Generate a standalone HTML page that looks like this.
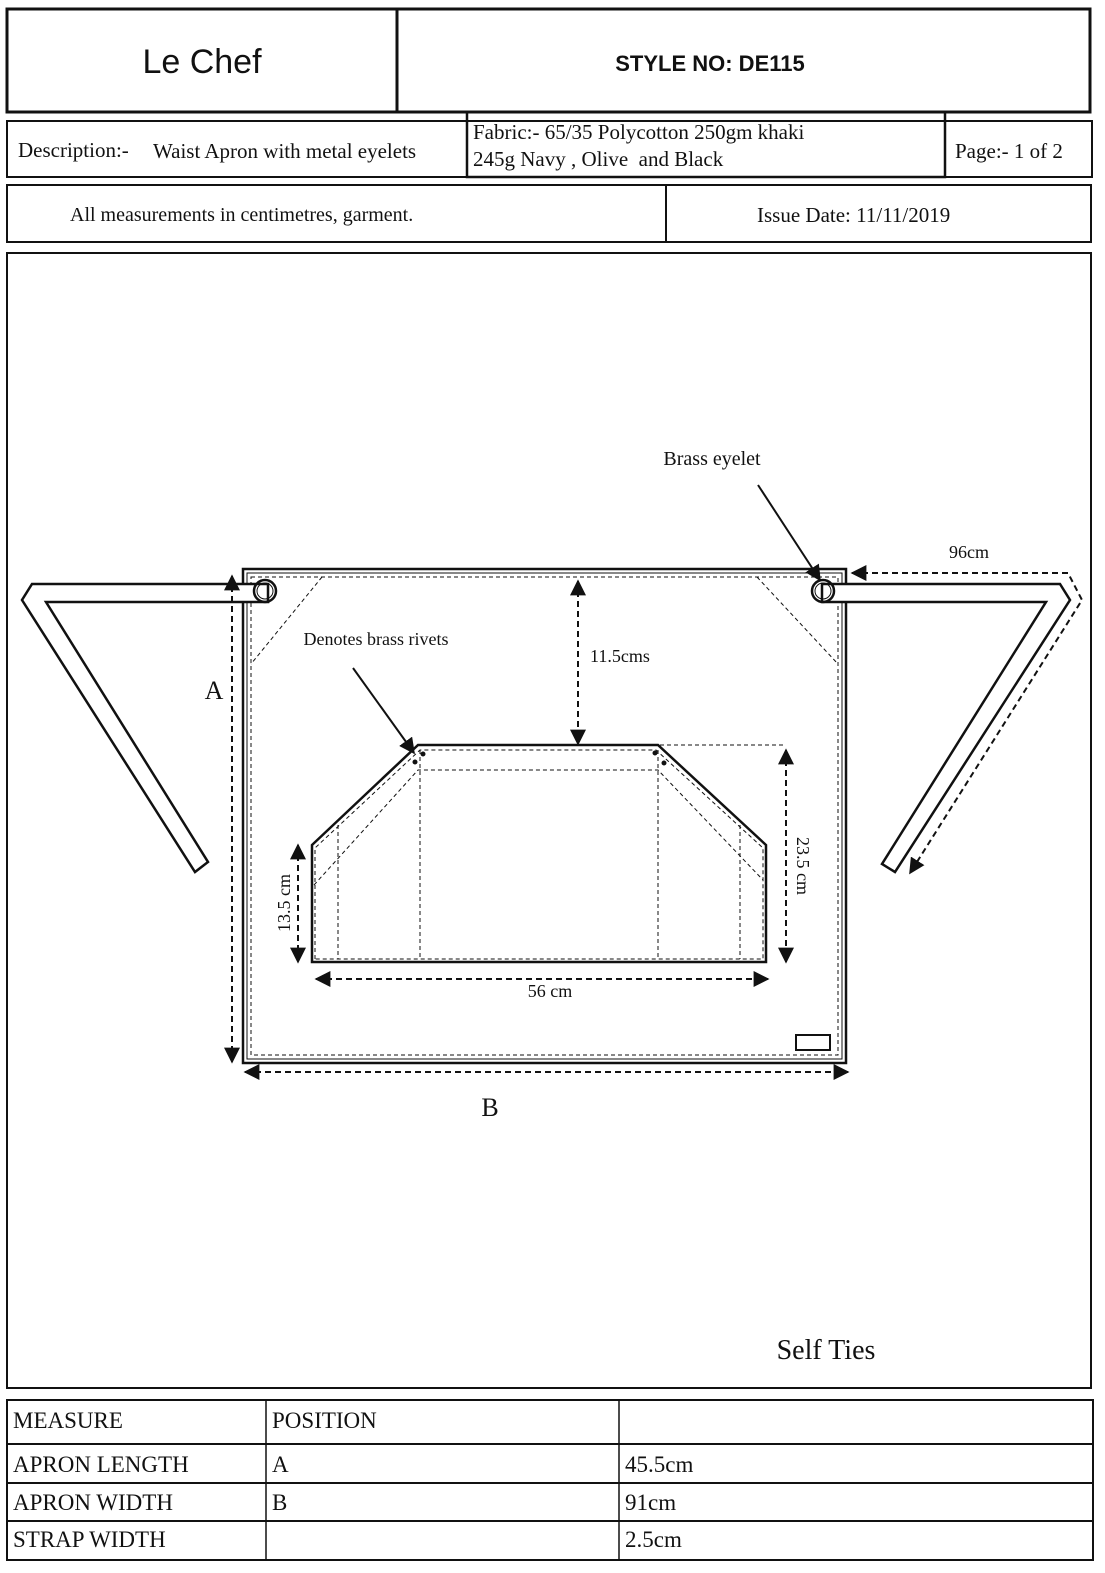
<!DOCTYPE html>
<html><head><style>body{margin:0;background:#fff}svg{display:block}</style></head><body>
<svg width="1105" height="1573" viewBox="0 0 1105 1573" xmlns="http://www.w3.org/2000/svg" font-family="Liberation Serif, serif" fill="none" stroke="#111">
<defs>
<marker id="ah" viewBox="0 0 10 10" refX="9" refY="5" markerWidth="8" markerHeight="8" orient="auto-start-reverse"><path d="M0,0L10,5L0,10z" fill="#111" stroke="none"/></marker>
</defs>
<!-- header -->
<rect x="7" y="9" width="1083" height="103" stroke-width="3"/>
<line x1="397" y1="9" x2="397" y2="112" stroke-width="3"/>
<text x="202" y="73" font-family="Liberation Sans, sans-serif" font-size="34" fill="#111" stroke="none" text-anchor="middle">Le Chef</text>
<text x="710" y="71" font-family="Liberation Sans, sans-serif" font-weight="bold" font-size="22" fill="#111" stroke="none" text-anchor="middle">STYLE NO: DE115</text>
<rect x="7" y="121" width="1085" height="56" stroke-width="2"/>
<rect x="467" y="112" width="478" height="65" stroke-width="2.5"/>
<text x="18" y="157" font-size="21" fill="#111" stroke="none">Description:-</text>
<text x="153" y="158" font-size="21" fill="#111" stroke="none">Waist Apron with metal eyelets</text>
<text x="473" y="139" font-size="21" fill="#111" stroke="none">Fabric:- 65/35 Polycotton 250gm khaki</text>
<text x="473" y="166" font-size="21" fill="#111" stroke="none" xml:space="preserve">245g Navy , Olive  and Black</text>
<text x="955" y="158" font-size="21" fill="#111" stroke="none">Page:- 1 of 2</text>
<rect x="7" y="185" width="1084" height="57" stroke-width="2"/>
<line x1="666" y1="185" x2="666" y2="242" stroke-width="2"/>
<text x="70" y="221" font-size="20" fill="#111" stroke="none">All measurements in centimetres, garment.</text>
<text x="757" y="222" font-size="21" fill="#111" stroke="none">Issue Date: 11/11/2019</text>
<!-- main box -->
<rect x="7" y="253" width="1084" height="1135" stroke-width="2"/>
<!-- apron -->
<rect x="243" y="569" width="603" height="494" stroke-width="2.5"/>
<rect x="247" y="573" width="595" height="486" stroke-width="1"/>
<rect x="251" y="577" width="587" height="478" stroke-width="1" stroke-dasharray="4,3"/>
<line x1="322" y1="577" x2="251" y2="664" stroke-width="1" stroke-dasharray="4,3"/>
<line x1="757" y1="577" x2="838" y2="664" stroke-width="1" stroke-dasharray="4,3"/>
<rect x="796" y="1035" width="34" height="15" stroke-width="2"/>
<!-- straps -->
<polygon points="32,584 268,584 268,602 46,602 208,862 195,872 22,600" fill="#fff" stroke-width="2.5"/>
<polygon points="1060,584 822,584 822,602 1046,602 882,864 895,872 1070,600" fill="#fff" stroke-width="2.5"/>
<circle cx="265" cy="591" r="11" fill="none" stroke-width="2.5"/>
<circle cx="265" cy="591" r="8" stroke-width="1"/>
<circle cx="823" cy="591" r="11" fill="none" stroke-width="2.5"/>
<circle cx="823" cy="591" r="8" stroke-width="1"/>
<!-- 96cm -->
<polyline points="852,573 1068,573 1082,600 910,873" stroke-width="2" stroke-dasharray="6,4" marker-start="url(#ah)" marker-end="url(#ah)"/>
<text x="969" y="558" font-size="18" fill="#111" stroke="none" text-anchor="middle">96cm</text>
<!-- A / B -->
<line x1="232" y1="576" x2="232" y2="1062" stroke-width="2" stroke-dasharray="6,4" marker-start="url(#ah)" marker-end="url(#ah)"/>
<text x="214" y="699" font-size="26" fill="#111" stroke="none" text-anchor="middle">A</text>
<line x1="245" y1="1072" x2="848" y2="1072" stroke-width="2" stroke-dasharray="6,4" marker-start="url(#ah)" marker-end="url(#ah)"/>
<text x="490" y="1116" font-size="26" fill="#111" stroke="none" text-anchor="middle">B</text>
<!-- 11.5 -->
<line x1="578" y1="581" x2="578" y2="744" stroke-width="2" stroke-dasharray="6,4" marker-start="url(#ah)" marker-end="url(#ah)"/>
<text x="590" y="662" font-size="18" fill="#111" stroke="none">11.5cms</text>
<!-- pocket -->
<polygon points="312,962 312,845 418,745 658,745 766,845 766,962" stroke-width="2.5"/>
<g stroke-width="1" stroke-dasharray="4,3">
<polyline points="315,959 315,848 420,750 656,750 763,848 763,959 315,959"/>
<polyline points="314,885 418,770 658,770 763,880"/>
<line x1="420" y1="750" x2="420" y2="959"/>
<line x1="658" y1="750" x2="658" y2="959"/>
<line x1="338" y1="825" x2="338" y2="959"/>
<line x1="740" y1="825" x2="740" y2="959"/>
<line x1="660" y1="745" x2="786" y2="745"/>
</g>
<circle cx="423" cy="754" r="2" fill="#111"/><circle cx="415" cy="762" r="2" fill="#111"/>
<circle cx="655" cy="753" r="2" fill="#111"/><circle cx="664" cy="763" r="2" fill="#111"/>
<line x1="786" y1="750" x2="786" y2="962" stroke-width="2" stroke-dasharray="6,4" marker-start="url(#ah)" marker-end="url(#ah)"/>
<text transform="translate(797,866) rotate(90)" font-size="18" fill="#111" stroke="none" text-anchor="middle">23.5 cm</text>
<line x1="298" y1="845" x2="298" y2="962" stroke-width="2" stroke-dasharray="6,4" marker-start="url(#ah)" marker-end="url(#ah)"/>
<text transform="translate(290,903) rotate(-90)" font-size="18" fill="#111" stroke="none" text-anchor="middle">13.5 cm</text>
<line x1="316" y1="979" x2="768" y2="979" stroke-width="2" stroke-dasharray="6,4" marker-start="url(#ah)" marker-end="url(#ah)"/>
<text x="550" y="997" font-size="18" fill="#111" stroke="none" text-anchor="middle">56 cm</text>
<!-- callouts -->
<text x="712" y="465" font-size="20" fill="#111" stroke="none" text-anchor="middle">Brass eyelet</text>
<line x1="758" y1="485" x2="820" y2="580" stroke-width="2" marker-end="url(#ah)"/>
<text x="376" y="645" font-size="18" fill="#111" stroke="none" text-anchor="middle">Denotes brass rivets</text>
<line x1="353" y1="668" x2="414" y2="753" stroke-width="2" marker-end="url(#ah)"/>
<text x="826" y="1359" font-size="28" fill="#111" stroke="none" text-anchor="middle">Self Ties</text>
<!-- table -->
<rect x="7" y="1400" width="1086" height="160" stroke-width="2"/>
<line x1="7" y1="1444" x2="1093" y2="1444" stroke-width="2"/>
<line x1="7" y1="1483" x2="1093" y2="1483" stroke-width="2"/>
<line x1="7" y1="1521" x2="1093" y2="1521" stroke-width="2"/>
<line x1="266" y1="1400" x2="266" y2="1560" stroke-width="1.5"/>
<line x1="619" y1="1400" x2="619" y2="1560" stroke-width="1.5"/>
<g font-size="23" fill="#111" stroke="none">
<text x="13" y="1428">MEASURE</text><text x="272" y="1428">POSITION</text>
<text x="13" y="1472">APRON LENGTH</text><text x="272" y="1472">A</text><text x="625" y="1472">45.5cm</text>
<text x="13" y="1510">APRON WIDTH</text><text x="272" y="1510">B</text><text x="625" y="1510">91cm</text>
<text x="13" y="1547">STRAP WIDTH</text><text x="625" y="1547">2.5cm</text>
</g>
</svg>
</body></html>
